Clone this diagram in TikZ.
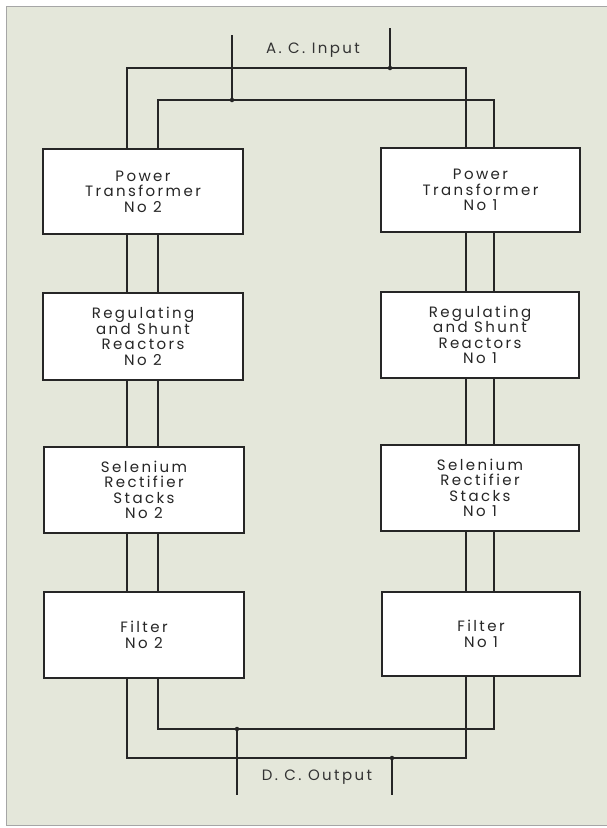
\documentclass[tikz,border=0pt]{standalone}
\usepackage{fontspec}
\newfontfamily\lett[LetterSpace=16]{Poppins}
\begin{document}
\begin{tikzpicture}[x=1pt,y=-1pt,
  wire/.style={draw=black!85,line width=1.6pt},
  blk/.style={draw=black!85,line width=1.7pt,fill=white,minimum width=200pt,minimum height=85pt,
    align=center,inner sep=0pt,font={\fontsize{15}{15.5}\selectfont\lett},text=black!85},
  lbl/.style={font={\fontsize{15}{15}\selectfont\lett},text=black!80,inner sep=0pt},
  jdot/.style={circle,fill=black!85,inner sep=0pt,minimum size=4.5pt}]
\useasboundingbox (0,0) rectangle (607,828);
\fill[white] (0,0) rectangle (607,828);
\fill[fill={rgb,255:red,228;green,231;blue,218}] (6,6) rectangle (607,825);
\draw[black!35,line width=0.8pt] (607,6) -- (6,6) -- (6,825) -- (607,825);
% boxes
\node[blk] (pt2) at (143,191.5) {Power\\Transformer\\No 2};
\node[blk,minimum width=199pt,minimum height=84pt] (pt1) at (480.5,190) {Power\\Transformer\\No 1};
\node[blk,minimum height=87pt] (rg2) at (143,336.5) {Regulating\\and Shunt\\Reactors\\No 2};
\node[blk,minimum width=198pt,minimum height=86pt] (rg1) at (480,335) {Regulating\\and Shunt\\Reactors\\No 1};
\node[blk,minimum height=86pt] (se2) at (144,490) {Selenium\\Rectifier\\Stacks\\No 2};
\node[blk,minimum width=198pt,minimum height=86pt] (se1) at (480,488) {Selenium\\Rectifier\\Stacks\\No 1};
\node[blk,minimum height=86pt] (fi2) at (144,635) {Filter\\No 2};
\node[blk,minimum width=198pt,minimum height=84pt] (fi1) at (481,634) {Filter\\No 1};
% wire x positions
\coordinate (Lo) at (127,0);
\coordinate (Li) at (158,0);
\coordinate (Ro) at (466,0);
\coordinate (Ri) at (494,0);
% vertical links between boxes
\foreach \a/\b in {pt2/rg2,rg2/se2,se2/fi2}{
  \draw[wire] (\a.south -| Lo) -- (\b.north -| Lo);
  \draw[wire] (\a.south -| Li) -- (\b.north -| Li);}
\foreach \a/\b in {pt1/rg1,rg1/se1,se1/fi1}{
  \draw[wire] (\a.south -| Ro) -- (\b.north -| Ro);
  \draw[wire] (\a.south -| Ri) -- (\b.north -| Ri);}
% input
\coordinate (inA) at (232,35);
\coordinate (inB) at (390,28);
\coordinate (jA) at (232,100);
\coordinate (jB) at (390,68);
\draw[wire] (pt2.north -| Lo) |- (jB) -| (pt1.north -| Ro);
\draw[wire] (pt2.north -| Li) |- (jA) -| (pt1.north -| Ri);
\draw[wire] (inA) -- (jA);
\draw[wire] (inB) -- (jB);
\node[jdot] at (jA) {};
\node[jdot] at (jB) {};
\node[lbl] (acin) at (313,50) {A. C. Input};
% output
\coordinate (jC) at (237,729);
\coordinate (jD) at (392,758);
\coordinate (outC) at (237,795);
\coordinate (outD) at (392,795);
\draw[wire] (fi2.south -| Li) |- (jC) -| (fi1.south -| Ri);
\draw[wire] (fi2.south -| Lo) |- (jD) -| (fi1.south -| Ro);
\draw[wire] (jC) -- (outC);
\draw[wire] (jD) -- (outD);
\node[jdot] at (jC) {};
\node[jdot] at (jD) {};
\node[lbl] (dcout) at (317,777) {D. C. Output};
\end{tikzpicture}
\end{document}
